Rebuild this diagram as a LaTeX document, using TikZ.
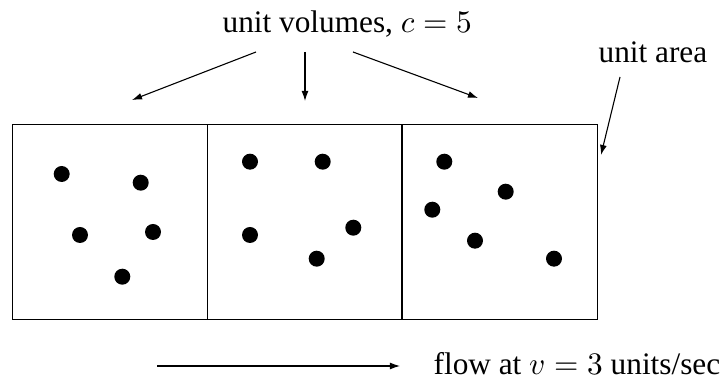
\documentclass[tikz,border=0pt]{standalone}
\usepackage[no-math]{fontspec}
\setmainfont{Liberation Serif}
\usetikzlibrary{arrows.meta}
\begin{document}
\begin{tikzpicture}[x=0.3195pt,y=-0.3195pt,
  lbl/.style={inner sep=0pt,anchor=base west,font=\fontsize{10pt}{12pt}\selectfont},
  arr/.style={line width=0.35pt,-{Latex[length=3.2pt,width=2.2pt]}},
  dot/.style={fill=black},
  box/.style={line width=0.4pt}]
\useasboundingbox (0,0) rectangle (723,377);
% text
\node[lbl] (uv) at (222,33) {unit volumes, $c = 5$};
\node[lbl] (ua) at (598,63) {unit area};
\node[lbl] (fl) at (433,375) {flow at $v = 3$ units/sec};
% box
\draw[box] (12.5,124.3) rectangle (597.5,319.3);
\draw[box] (207.5,124.3) -- (207.5,319.3);
\draw[box] (402,124.3) -- (402,319.3);
% dots
\foreach \p in {(61.7,174),(140.7,182.7),(80,235),(153,232),(122.3,276.7),
  (250,161.7),(250,235),(322.7,161.7),(353.3,227.7),(316.7,258.7),
  (444.3,161.7),(505.7,191.7),(432.3,209.7),(475,240.7),(554,258.7)}
  \fill[dot] \p circle (8);
% arrows
\coordinate (s1) at (256,52);
\coordinate (t1) at (132,100);
\coordinate (s2) at (305,52);
\coordinate (t2) at (305,101);
\coordinate (s3) at (353,52);
\coordinate (t3) at (478,98);
\draw[arr] (s1) -- (t1);
\draw[arr] (s2) -- (t2);
\draw[arr] (s3) -- (t3);
\coordinate (sa) at (620,77);
\coordinate (ta) at (601,155);
\draw[arr] (sa) -- (ta);
\coordinate (fs) at (157,366);
\coordinate (ft) at (400,366);
\draw[arr] (fs) -- (ft);
\end{tikzpicture}
\end{document}
